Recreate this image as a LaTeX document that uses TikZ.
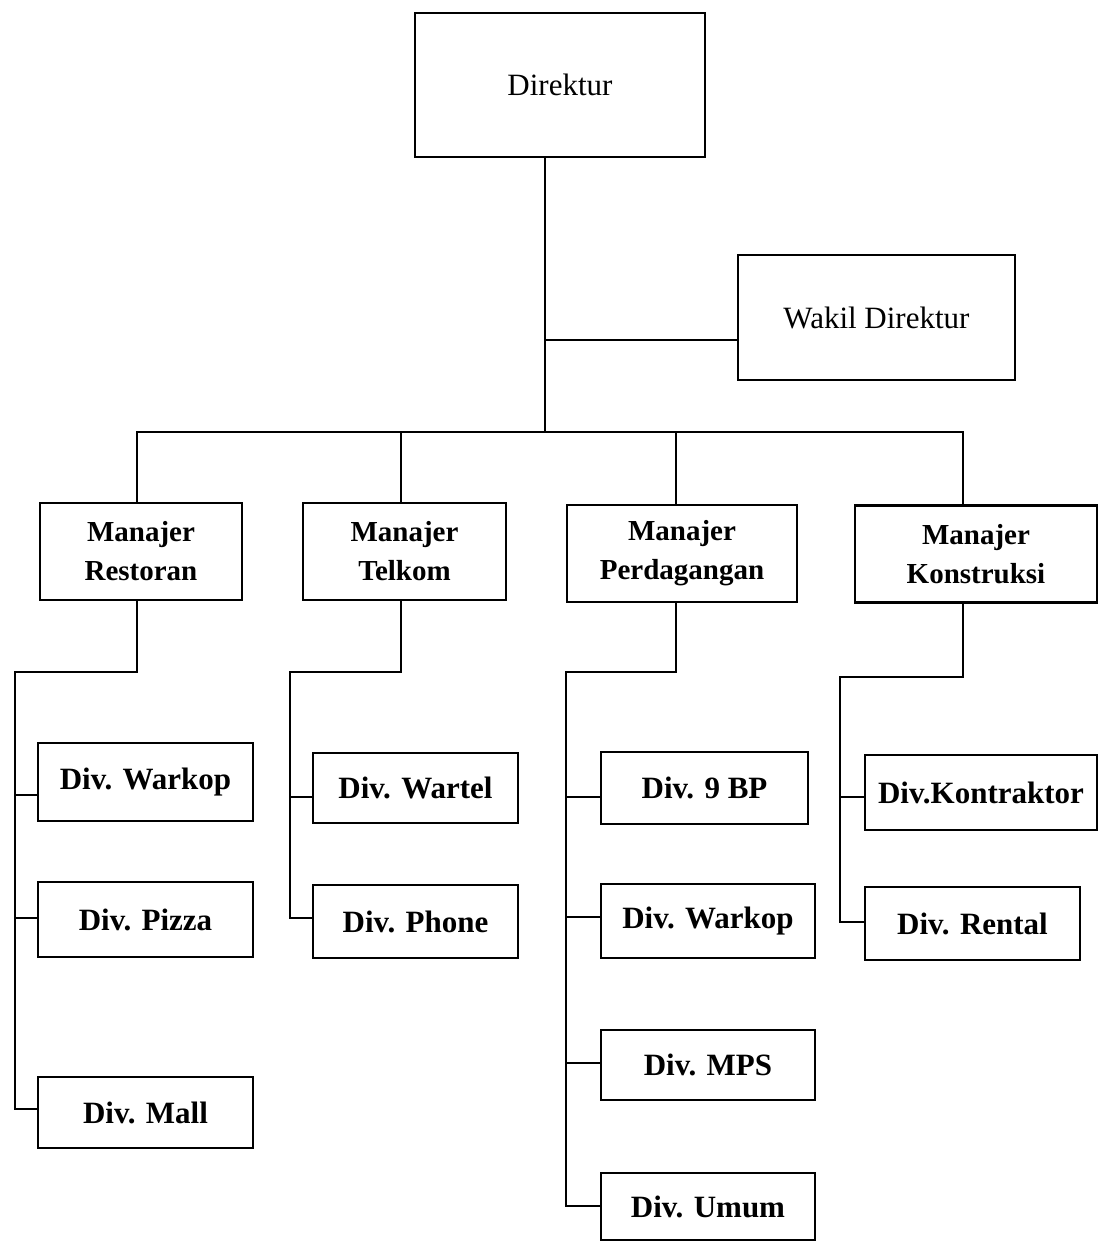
\documentclass[tikz,border=0pt]{standalone}
\usepackage{fontspec}
\setmainfont{Liberation Serif}
\usepackage{tikz}
\usetikzlibrary{positioning}
\tikzstyle{boss} = [rectangle, draw = black, line width = 1.2pt, text
  centered, font = \fontsize{15.5}{19}\selectfont]
\tikzstyle{manager} = [
  rectangle, draw = black, line width = 1.2pt,
  minimum height = 48.5pt, align = center,
  font = \bfseries\fontsize{14.5}{19.5}\selectfont
]
\tikzstyle{division} = [
  rectangle, draw = black, line width = 1.2pt,
  text centered, font = \bfseries\fontsize{15.5}{18}\selectfont
]
\tikzstyle{link} = [line width = 1pt]

\begin{document}
\begin{tikzpicture}[x = 0.5pt, y = -0.5pt, node distance = 0]
      \useasboundingbox (0, 0) rectangle (1100, 1243);
      % direksi
      \node [boss, minimum width = 145pt, minimum height = 72pt] (box-dir) at (560, 85) {Direktur};
      \node [boss, minimum width = 138.5pt, minimum height = 62.5pt, right of = box-dir, xshift = 158.25pt, yshift = -116.25pt] (box-wakil) {Wakil Direktur};
      % manajer
      \node [manager, minimum width = 101pt] (mgr-res) at (141, 551.5) {Manajer\\Restoran};
      \node [manager, minimum width = 101.5pt, right of = mgr-res, xshift = 131.75pt] (mgr-tel) {Manajer\\Telkom};
      \node [manager, minimum width = 115pt, right of = mgr-tel, xshift = 138.75pt, yshift = -1pt] (mgr-per) {Manajer\\Perdagangan};
      \node [manager, minimum width = 121pt, right of = mgr-per, xshift = 147pt, yshift = -0.25pt] (mgr-kon) {Manajer\\Konstruksi};
      % divisi
      \node [division, minimum width = 107.5pt, minimum height = 39pt, below of = mgr-res, xshift = 2.25pt, yshift = -115.25pt] (div-res-a) {Div. Warkop};
      \node [division, minimum width = 107.5pt, minimum height = 37.5pt, below of = div-res-a, yshift = -68.75pt] (div-res-b) {Div. Pizza};
      \node [division, minimum width = 107.5pt, minimum height = 35.5pt, below of = div-res-b, yshift = -96.5pt] (div-res-c) {Div. Mall};
      \node [division, minimum width = 102.5pt, minimum height = 35pt, below of = mgr-tel, xshift = 5.5pt, yshift = -118.25pt] (div-tel-a) {Div. Wartel};
      \node [division, minimum width = 102.5pt, minimum height = 36.5pt, below of = div-tel-a, yshift = -66.75pt] (div-tel-b) {Div. Phone};
      \node [division, minimum width = 103.5pt, minimum height = 36pt, below of = mgr-per, xshift = 11.25pt, yshift = -117.25pt] (div-per-a) {Div. 9 BP};
      \node [division, minimum width = 107pt, minimum height = 37pt, below of = div-per-a, xshift = 1.75pt, yshift = -66.5pt] (div-per-b) {Div. Warkop};
      \node [division, minimum width = 107pt, minimum height = 35pt, below of = div-per-b, yshift = -72pt] (div-per-c) {Div. MPS};
      \node [division, minimum width = 107pt, minimum height = 33.5pt, below of = div-per-c, yshift = -70.75pt] (div-per-d) {Div. Umum};
      \node [division, minimum width = 116pt, minimum height = 37.5pt, below of = mgr-kon, xshift = 2.5pt, yshift = -119.25pt] (div-kon-a) {Div.Kontraktor};
      \node [division, minimum width = 107.5pt, minimum height = 36.5pt, below of = div-kon-a, xshift = -4.25pt, yshift = -65.5pt] (div-kon-b) {Div. Rental};

      \coordinate (bus) at (545, 432);
      \coordinate (trunk-res) at (15, 672);
      \coordinate (trunk-tel) at (290, 672);
      \coordinate (trunk-per) at (566, 672);
      \coordinate (trunk-kon) at (840, 677);

      \draw [link] (box-dir.south -| bus) -- (bus);
      \draw [link] ([yshift = -11.25pt]box-wakil.west) -| (bus);
      \draw [link] ([xshift = -2pt]mgr-res.north) |- (bus) -| ([xshift = -6.5pt]mgr-kon.north);
      \draw [link] ([xshift = -1.75pt]mgr-tel.north) -- ([xshift = -1.75pt]mgr-tel.north |- bus);
      \draw [link] ([xshift = -3pt]mgr-per.north) -- ([xshift = -3pt]mgr-per.north |- bus);

      \draw [link] ([xshift = -2pt]mgr-res.south) |- (trunk-res) |- ([yshift = 2pt]div-res-c.west);
      \draw [link] ([yshift = -6.5pt]div-res-a.west) -| (trunk-res);
      \draw [link] ([yshift = 1pt]div-res-b.west) -| (trunk-res);

      \draw [link] ([xshift = -1.75pt]mgr-tel.south) |- (trunk-tel) |- ([yshift = 2pt]div-tel-b.west);
      \draw [link] ([yshift = -4.5pt]div-tel-a.west) -| (trunk-tel);

      \draw [link] ([xshift = -3pt]mgr-per.south) |- (trunk-per) |- ([yshift = 0.5pt]div-per-d.west);
      \draw [link] ([yshift = -4.5pt]div-per-a.west) -| (trunk-per);
      \draw [link] ([yshift = 2pt]div-per-b.west) -| (trunk-per);
      \draw [link] ([yshift = 1pt]div-per-c.west) -| (trunk-per);

      \draw [link] ([xshift = -6.5pt]mgr-kon.south) |- (trunk-kon) |- ([yshift = 0.75pt]div-kon-b.west);
      \draw [link] ([yshift = -2.25pt]div-kon-a.west) -| (trunk-kon);
    \end{tikzpicture}
\end{document}
